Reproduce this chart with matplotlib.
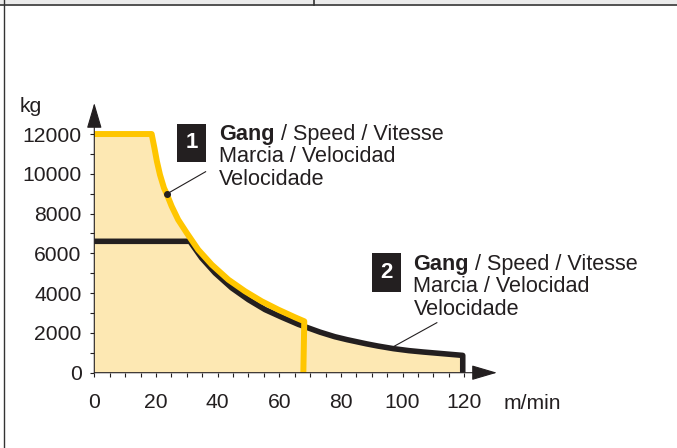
import matplotlib.pyplot as plt
from matplotlib.patches import Rectangle

# load (kg) over speed (m/min)
gear1_speed = [0, 18.6, 19.5, 20.3, 21.3, 22.6, 23.5, 25.1, 27.2, 30.0, 33.7, 38.1,
               43.5, 48.9, 54.3, 59.7, 65.1, 68.1, 67.8]
gear1_load = [12000, 12000, 11300, 10630, 9955, 9286, 8985, 8366, 7692, 7024, 6184, 5430,
              4676, 4093, 3590, 3168, 2785, 2584, 0]

gear2_speed = [0, 31.0, 34.8, 39.2, 44.6, 50.0, 55.4, 60.8, 66.2, 68.9, 73.2, 78.0,
               82.0, 88.3, 92.0, 97.0, 102.0, 106.7, 112.0, 119.5, 119.5]
gear2_load = [6606, 6606, 5770, 5010, 4260, 3670, 3170, 2790, 2430, 2280, 2040, 1810,
              1660, 1450, 1340, 1210, 1110, 1040, 970, 870, 0]

y_ticks = [0, 2000, 4000, 6000, 8000, 10000, 12000]
x_ticks = [0, 20, 40, 60, 80, 100, 120]
x_minor = [5, 10, 15, 25, 30, 35, 45, 50, 55, 65, 70, 75, 85, 90, 95, 105, 110, 115]
y_minor = [1000, 3000, 5000, 7000, 9000, 11000]

label_lines = ["Marcia / Velocidad", "Velocidade"]

INK = "#231f20"
YELLOW = "#ffc600"
FILL = "#fde8b3"
FS = 15.2

plt.rcParams["font.family"] = "Liberation Sans"

fig = plt.figure(figsize=(6.77, 4.48), dpi=100)

# frame / header strip of the sheet
frame = fig.add_axes([0, 0, 1, 1])
frame.set_xlim(0, 677)
frame.set_ylim(448, 0)
frame.axis("off")
frame.add_patch(Rectangle((0, 0), 677, 4.5, color="#ebebeb", lw=0))
frame.plot([0, 677], [5, 5], color="#333333", lw=1.2)
frame.plot([313.5, 313.5], [0, 5], color="#333333", lw=1.2)
frame.plot([3.5, 3.5], [0, 448], color="#333333", lw=1.0)

ax = fig.add_axes([94.3 / 677, 75.3 / 448, 403.9 / 677, 270.5 / 448])
ax.set_xlim(0, 131)
ax.set_ylim(0, 13600)
for s in ax.spines.values():
    s.set_visible(False)
ax.patch.set_alpha(0)

# shaded working area under the upper envelope
cut1 = gear1_speed.index(68.1) + 1
cut2 = gear2_speed.index(68.9)
fill_x = [0] + gear1_speed[:cut1] + gear2_speed[cut2:]
fill_y = [0] + gear1_load[:cut1] + gear2_load[cut2:]
ax.fill(fill_x, fill_y, color=FILL, lw=0, zorder=1)

ax.plot(gear2_speed, gear2_load, color=INK, lw=4.0, solid_joinstyle="round",
        solid_capstyle="butt", zorder=2, clip_on=False)
ax.plot(gear1_speed, gear1_load, color=YELLOW, lw=4.3, solid_joinstyle="round",
        solid_capstyle="butt", zorder=3, clip_on=False)

# axes with arrow heads
arrow = dict(arrowstyle="-|>,head_length=1.6,head_width=0.47", color=INK,
             lw=0.8, shrinkA=0, shrinkB=0, mutation_scale=10)
ax.annotate("", xy=(0, 13560), xytext=(0, 0), arrowprops=arrow, zorder=4)
ax.annotate("", xy=(130.6, 0), xytext=(0, 0), arrowprops=arrow, zorder=4)

ax.set_xticks(x_ticks)
ax.set_yticks(y_ticks)
ax.set_xticks(x_minor, minor=True)
ax.set_yticks(y_minor, minor=True)
ax.tick_params(which="both", direction="out", length=2.6, width=0.8, color=INK)
ax.tick_params(axis="x", which="major", pad=12.0, labelsize=FS, labelcolor=INK)
ax.tick_params(axis="y", which="major", pad=6.5, labelsize=FS, labelcolor=INK)

ax.text(-24.3, 13092, "kg", fontsize=FS, color=INK, va="baseline", clip_on=False)
ax.text(132.6, -1060, "m/min", fontsize=FS, color=INK, va="top", clip_on=False)


def gear_label(x, base_y, box, number):
    ax.add_patch(Rectangle(box[:2], box[2], box[3], color=INK, lw=0, zorder=5))
    ax.text(box[0] + box[2] / 2, box[1] + box[3] / 2, number, color="white",
            fontsize=16, fontweight="bold", ha="center", va="center", zorder=6)
    t = ax.text(x, base_y[0], "Gang", fontsize=FS + 0.4, fontweight="bold", color=INK,
                va="baseline", zorder=6)
    ax.annotate(" / Speed / Vitesse", xy=(1, 0), xycoords=t, fontsize=FS + 0.4,
                color=INK, va="bottom", ha="left", zorder=6)
    for line, y in zip(label_lines, base_y[1:]):
        ax.text(x, y, line, fontsize=FS + 0.4, color=INK, va="baseline", zorder=6)


gear_label(40.5, [11700, 10590, 9450], (26.9, 10608, 9.2, 1895), "1")
gear_label(103.5, [5170, 4060, 2920], (90.2, 4072, 9.2, 1931), "2")

# leader lines
ax.plot([23.5, 36.1], [8985, 10105], color=INK, lw=0.8, zorder=4)
ax.plot([23.5], [8985], "o", color=INK, ms=4, zorder=4)
ax.plot([97.0, 111.1], [1307, 2514], color=INK, lw=0.8, zorder=4)

fig.savefig("out.png", dpi=100)
